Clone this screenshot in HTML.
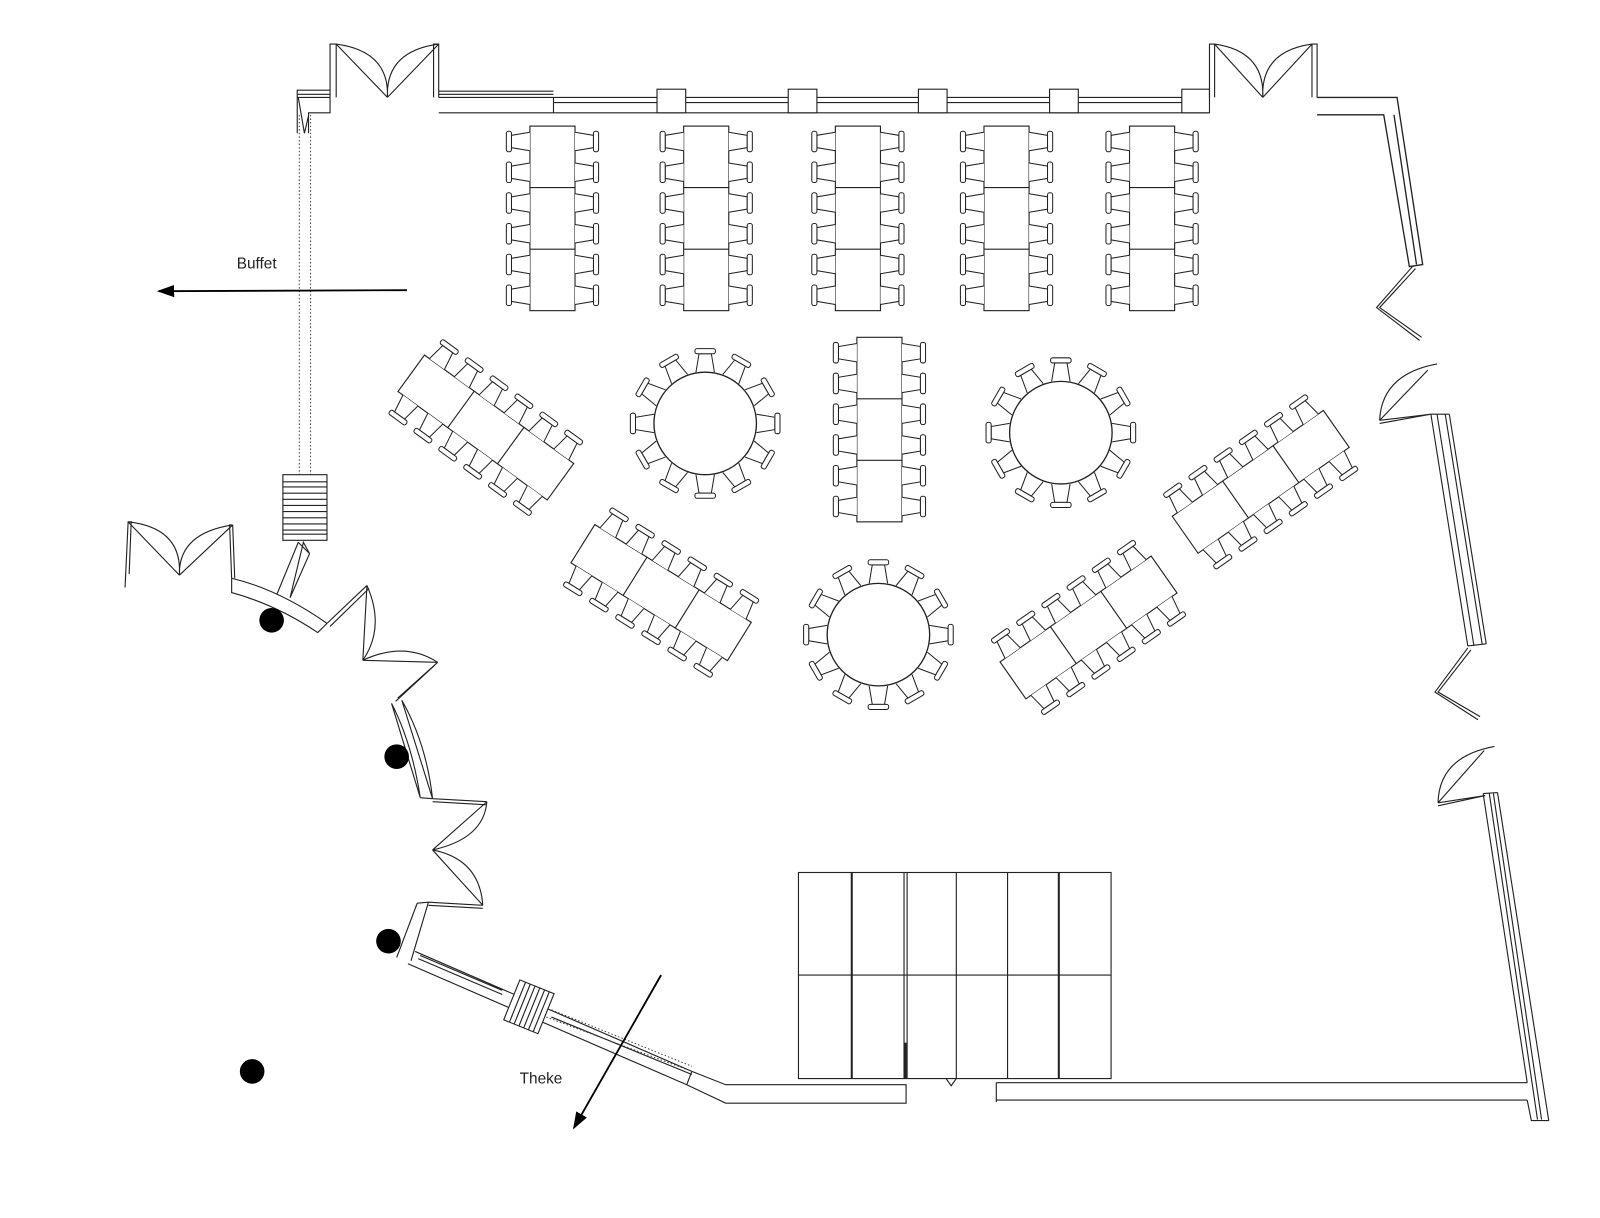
<!DOCTYPE html>
<html><head><meta charset="utf-8"><style>
html,body{margin:0;padding:0;background:#fff;}
svg{display:block;}
text{font-family:"Liberation Sans",sans-serif;font-size:15px;fill:#222;}
</style></head><body>
<svg width="1600" height="1218" viewBox="0 0 1561 1188" preserveAspectRatio="none" xmlns="http://www.w3.org/2000/svg">
<defs>
<g id="ch" fill="#fff" stroke="#222" stroke-width="1">
  <path d="M0,-9 L-18,-6 L-18,6 L0,9"/>
  <rect x="-23" y="-10" width="5" height="20" rx="2"/>
</g>
<g id="rg" stroke="#222" stroke-width="1.1" fill="#fff">
  <rect x="-22" y="-90" width="44" height="180"/>
  <line x1="-22" y1="-30" x2="22" y2="-30"/><line x1="-22" y1="30" x2="22" y2="30"/>
  <use href="#ch" x="-22" y="-75"/><use href="#ch" x="-22" y="-45"/><use href="#ch" x="-22" y="-15"/>
  <use href="#ch" x="-22" y="15"/><use href="#ch" x="-22" y="45"/><use href="#ch" x="-22" y="75"/>
  <use href="#ch" transform="translate(22,-75) scale(-1,1)"/><use href="#ch" transform="translate(22,-45) scale(-1,1)"/>
  <use href="#ch" transform="translate(22,-15) scale(-1,1)"/><use href="#ch" transform="translate(22,15) scale(-1,1)"/>
  <use href="#ch" transform="translate(22,45) scale(-1,1)"/><use href="#ch" transform="translate(22,75) scale(-1,1)"/>
</g>
<g id="rd">
  <use href="#ch" transform="rotate(0) translate(-50,0)"/><use href="#ch" transform="rotate(30) translate(-50,0)"/>
  <use href="#ch" transform="rotate(60) translate(-50,0)"/><use href="#ch" transform="rotate(90) translate(-50,0)"/>
  <use href="#ch" transform="rotate(120) translate(-50,0)"/><use href="#ch" transform="rotate(150) translate(-50,0)"/>
  <use href="#ch" transform="rotate(180) translate(-50,0)"/><use href="#ch" transform="rotate(210) translate(-50,0)"/>
  <use href="#ch" transform="rotate(240) translate(-50,0)"/><use href="#ch" transform="rotate(270) translate(-50,0)"/>
  <use href="#ch" transform="rotate(300) translate(-50,0)"/><use href="#ch" transform="rotate(330) translate(-50,0)"/>
  <circle r="50" fill="#fff" stroke="#222" stroke-width="1.3"/>
</g>
<marker id="ah" markerWidth="18" markerHeight="12" refX="15" refY="6" orient="auto" markerUnits="userSpaceOnUse">
  <path d="M0,0 L17,6 L0,12 z" fill="#000"/>
</marker>
</defs>

<use href="#rg" x="539" y="213"/><use href="#rg" x="689" y="213"/><use href="#rg" x="837" y="213"/>
<use href="#rg" x="982" y="213"/><use href="#rg" x="1124" y="213"/>
<use href="#rg" x="858" y="419"/>
<use href="#rg" transform="translate(474,417) rotate(-54)"/>
<use href="#rg" transform="translate(645,578) rotate(-58)"/>
<use href="#rg" transform="translate(1230,470) rotate(55)"/>
<use href="#rg" transform="translate(1062,612) rotate(55)"/>
<use href="#rd" x="688" y="413"/><use href="#rd" x="1035" y="422"/><use href="#rd" x="857" y="619"/>

<g stroke="#222" stroke-width="1.1" fill="none">
  <rect x="779" y="851" width="305" height="201"/>
  <line x1="779" y1="951" x2="1084" y2="951"/>
  <line x1="831" y1="851" x2="831" y2="1052" stroke-width="2"/>
  <line x1="882" y1="851" x2="882" y2="1052"/><line x1="885" y1="851" x2="885" y2="1052"/>
  <line x1="933" y1="851" x2="933" y2="1052"/><line x1="983" y1="851" x2="983" y2="1052"/>
  <line x1="1033" y1="851" x2="1033" y2="1052" stroke-width="2"/>
  <line x1="883" y1="1017" x2="883" y2="1052" stroke-width="3"/>
  <path d="M923,1052 L928,1059 L933,1052"/>
</g>

<g stroke="#222" stroke-width="1.1" fill="none">
  <path d="M290,130 L290,88 L322,88 M290,92 L322,92 M290,95 L322,95 M301,130 L301,110 L322,110 L322,95"/>
  <path d="M291,95 L297,130 L301,113" />
  <path d="M322,95 L322,43 L328,43 L328,95"/>
  <path d="M423,95 L423,43 L428,43 L428,95"/>
  <path d="M328,43 L378,95 M328,43 Q380,50 378,95 M428,43 L378,95 M428,43 Q376,50 378,95"/>
  <path d="M428,89 L540,89 M428,92 L540,92 M428,95 L1180,95 M540,100 L1180,100 M428,110 L1180,110 M540,95 L540,110"/>
  <rect x="641" y="87" width="28" height="23" fill="#fff"/><rect x="769" y="87" width="28" height="23" fill="#fff"/>
  <rect x="896" y="87" width="28" height="23" fill="#fff"/><rect x="1024" y="87" width="28" height="23" fill="#fff"/>
  <rect x="1153" y="87" width="27" height="23" fill="#fff"/>
  <path d="M1180,95 L1180,43 L1185,43 L1185,95 M1280,95 L1280,43 L1285,43 L1285,95"/>
  <path d="M1185,43 L1232,95 M1185,43 Q1234,50 1232,95 M1280,43 L1232,95 M1280,43 Q1230,50 1232,95"/>
  <path d="M1285,95 L1363,95 L1388,258 L1375,260 L1350,112 L1285,112 M1360,112 L1382,258" stroke-width="1.3"/>
  <path d="M1378,260 L1343,300 L1385,332 M1381,262 L1346,300 L1387,329"/>
  <path d="M1346,410 L1393,361 M1346,410 Q1348,365 1402,355 M1346,410 L1396,404 L1346,413"/>
  <path d="M1396,404 L1432,630 M1402,404 L1438,630 M1410,404 L1446,628 M1414,404 L1450,628 M1396,404 L1414,404 M1432,630 L1450,628"/>
  <path d="M1432,632 L1400,675 L1442,702 M1435,634 L1403,675 L1444,699"/>
  <path d="M1403,783 L1448,732 M1403,783 Q1404,738 1458,728 M1403,783 L1449,776 L1403,786"/>
  <path d="M1447,774 L1490,1056 M1453,774 L1500,1092 M1457,774 L1504,1092 M1461,773 L1511,1093 M1447,774 L1461,773 M1500,1093 L1511,1093 M1490,1073 L1494,1093 L1500,1093"/>
  <path d="M972,1056 L1490,1056 M972,1073 L1490,1073 M972,1056 L972,1075"/>
  <path d="M675,1045 L708,1058 L884,1058 L884,1076 L708,1076 L670,1058"/>
  <path d="M405,928 L675,1045 M398,940 L670,1058 M408,935 L490,970 M410,932 L490,966 M538,992 L675,1048"/>
  <path d="M675,1045 L670,1058" />
  <path d="M122,573 L125,509 L128,509 L126,560 M125,509 L175,561 M125,509 Q178,515 175,561 M227,512 L175,561 M227,512 Q174,520 175,561 M227,512 L224,512 L226,564 M227,512 L229,564"/>
  <path d="M226,564 Q272,575 319,608 M226,564 L226,578 Q270,590 310,617 L319,608"/>
  <path d="M270,580 L291,529 M283,583 L302,540 M291,529 L302,540 L296,529 L283,583"/>
  <path d="M319,608 L358,571 M322,611 L360,574 M358,571 L354,644 M358,571 Q376,612 354,644 M354,644 L427,646 M354,644 Q395,625 427,646"/>
  <path d="M427,646 L388,681 M424,649 L386,684 M382,686 L410,778 M392,683 L422,779 M382,686 Q402,725 410,778 M392,683 Q416,725 422,779 M410,778 L422,779"/>
  <path d="M422,779 L475,782 M422,782 L475,785 M475,782 L422,829 M475,782 Q472,818 422,829 M422,829 L471,883 M422,829 Q468,838 471,883"/>
  <path d="M471,883 L418,880 M471,886 L418,883 M418,880 L401,937 M407,881 L387,934 M407,881 L418,880"/>
  <rect x="276" y="463" width="43" height="64" fill="#fff"/>
  <path d="M276,470 L319,470 M276,475 L319,475 M276,481 L319,481 M276,487 L319,487 M276,493 L319,493 M276,499 L319,499 M276,505 L319,505 M276,511 L319,511 M276,517 L319,517 M276,521 L319,521"/>
  <g transform="translate(516,982) rotate(22)">
    <rect x="-18" y="-21" width="36" height="42" fill="#fff"/>
    <path d="M-12,-21 L-12,21 M-7,-21 L-7,21 M-2,-21 L-2,21 M3,-21 L3,21 M8,-21 L8,21 M13,-21 L13,21"/>
  </g>
</g>
<g stroke="#444" stroke-width="1" stroke-dasharray="1.5,2" fill="none">
  <path d="M292,112 L292,463 M303,112 L303,463"/>
  <path d="M533,992 L675,1045 M538,985 L675,1040"/>
</g>
<g fill="#000">
  <circle cx="265" cy="605" r="12"/><circle cx="387" cy="738" r="12"/>
  <circle cx="379" cy="918" r="12"/><circle cx="246" cy="1045" r="12"/>
</g>
<line x1="397" y1="283" x2="155" y2="284" stroke="#000" stroke-width="1.8" marker-end="url(#ah)"/>
<line x1="645" y1="951" x2="560" y2="1100" stroke="#000" stroke-width="1.8" marker-end="url(#ah)"/>
<text x="231" y="262">Buffet</text>
<text x="507" y="1057">Theke</text>
</svg>
</body></html>
